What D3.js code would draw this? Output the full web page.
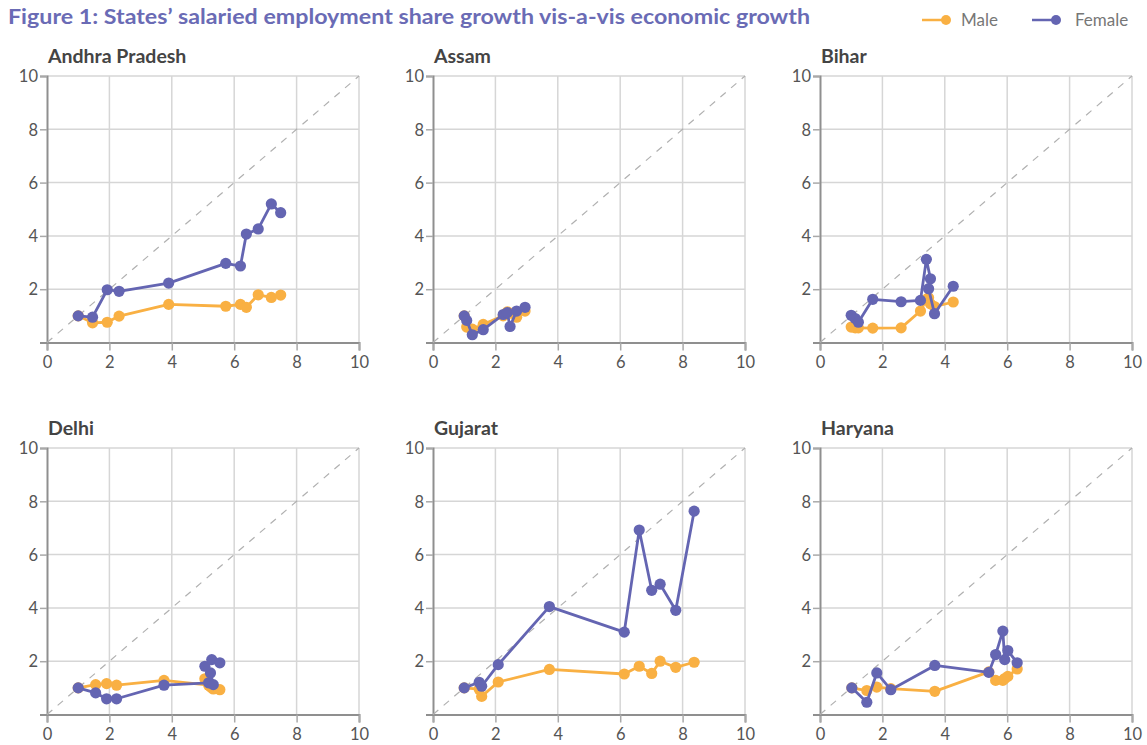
<!DOCTYPE html>
<html>
<head>
<meta charset="utf-8">
<script src="https://cdn.jsdelivr.net/npm/d3@7"></script>
<style>
  html, body { margin: 0; padding: 0; background: #ffffff; }
  svg { display: block; }
  text { font-family: Lato, "Open Sans", sans-serif; }
</style>
</head>
<body>
<svg id="chart" width="1147" height="745"></svg>
<script>
// States shown, one small multiple each
const states = ["Andhra Pradesh", "Assam", "Bihar", "Delhi", "Gujarat", "Haryana"];

// Economic growth index (x) per state, one entry per year
const econGrowth = [
  [1.0, 1.46, 1.93, 2.31, 3.90, 5.73, 6.20, 6.39, 6.77, 7.19, 7.49],
  [1.0, 1.08, 1.26, 1.61, 2.25, 2.38, 2.47, 2.68, 2.95],
  [1.0, 1.13, 1.23, 1.69, 2.60, 3.22, 3.41, 3.54, 3.48, 3.67, 4.27],
  [1.0, 1.56, 1.91, 2.23, 3.75, 5.18, 5.33, 5.24, 5.06, 5.28, 5.54],
  [1.0, 1.48, 1.56, 2.09, 3.73, 6.13, 6.61, 7.01, 7.28, 7.78, 8.37],
  [1.02, 1.50, 1.82, 2.27, 3.68, 5.41, 5.63, 5.86, 5.92, 6.02, 6.32]
];

// Salaried employment share growth index, male
const maleShare = [
  [1.0, 0.74, 0.76, 0.99, 1.43, 1.36, 1.43, 1.32, 1.79, 1.69, 1.78],
  [1.0, 0.58, 0.50, 0.68, 1.00, 1.15, 1.10, 0.95, 1.18],
  [0.58, 0.55, 0.55, 0.54, 0.55, 1.18, 1.62, 1.45, 1.68, 1.35, 1.52],
  [1.0, 1.12, 1.16, 1.10, 1.28, 1.10, 0.96, 1.05, 1.34, 1.00, 0.93],
  [1.0, 0.95, 0.68, 1.22, 1.69, 1.52, 1.81, 1.54, 2.00, 1.77, 1.96],
  [1.0, 0.90, 1.03, 0.97, 0.87, 1.60, 1.28, 1.28, 1.35, 1.43, 1.71]
];

// Salaried employment share growth index, female
const femaleShare = [
  [1.0, 0.95, 1.98, 1.92, 2.23, 2.97, 2.87, 4.07, 4.26, 5.20, 4.87],
  [1.0, 0.83, 0.29, 0.48, 1.05, 1.12, 0.60, 1.18, 1.32],
  [1.02, 0.90, 0.76, 1.62, 1.53, 1.58, 3.12, 2.39, 2.02, 1.08, 2.11],
  [1.0, 0.81, 0.59, 0.59, 1.10, 1.19, 1.12, 1.56, 1.81, 2.06, 1.94],
  [1.0, 1.21, 1.06, 1.87, 4.05, 3.09, 6.92, 4.66, 4.89, 3.91, 7.63],
  [1.0, 0.46, 1.56, 0.93, 1.84, 1.58, 2.25, 3.13, 2.06, 2.40, 1.94]
];

const axisTicks = [0, 2, 4, 6, 8, 10];
const gridTicks = [2, 4, 6, 8, 10];
const seriesNames = ["Male", "Female"];
const seriesColors = ["#f9b043", "#6465b2"];

const svg = d3.select("#chart");

// Title
svg.append("text")
  .attr("x", 8).attr("y", 24)
  .attr("fill", "#6a6bb5")
  .attr("font-size", 20)
  .attr("font-weight", 700)
  .attr("textLength", 802)
  .attr("lengthAdjust", "spacingAndGlyphs")
  .text("Figure 1: States’ salaried employment share growth vis-a-vis economic growth");

// Legend: short line ending in a dot, then the series name
const legendX = [922, 1032];
const legendTextX = [961, 1075];
seriesNames.forEach((name, i) => {
  const g = svg.append("g").attr("transform", `translate(${legendX[i]},20)`);
  g.append("line").attr("x1", 0).attr("x2", 24).attr("y1", 0).attr("y2", 0)
    .attr("stroke", seriesColors[i]).attr("stroke-width", 2.5);
  g.append("circle").attr("cx", 24).attr("cy", 0).attr("r", 5).attr("fill", seriesColors[i]);
  svg.append("text").attr("x", legendTextX[i]).attr("y", 26)
    .attr("fill", "#777").attr("font-size", 17).text(name);
});

// Panel geometry
const colX = [47, 433, 820];
const rowY = [76, 448];
const pw = 312, ph = 266.5;

states.forEach((state, idx) => {
  const col = idx % 3, row = Math.floor(idx / 3);
  const g = svg.append("g").attr("transform", `translate(${colX[col]},${rowY[row]})`);

  const x = d3.scaleLinear().domain([0, 10]).range([0, pw]);
  const y = d3.scaleLinear().domain([0, 10]).range([ph, 0]);

  // Panel title
  g.append("text").attr("x", 1).attr("y", -13)
    .attr("fill", "#444").attr("font-size", 19.5).attr("font-weight", 700)
    .text(state);

  // Grid
  g.append("g").selectAll("line").data(gridTicks).join("line")
    .attr("x1", d => x(d)).attr("x2", d => x(d)).attr("y1", 0).attr("y2", ph)
    .attr("stroke", "#d6d6d6").attr("stroke-width", 1.5);
  g.append("g").selectAll("line").data(gridTicks).join("line")
    .attr("x1", 0).attr("x2", pw).attr("y1", d => y(d)).attr("y2", d => y(d))
    .attr("stroke", "#d6d6d6").attr("stroke-width", 1.5);

  // Axes
  const xAxis = g.append("g").attr("transform", `translate(0,${ph})`)
    .call(d3.axisBottom(x).tickValues(axisTicks).tickSize(8).tickPadding(6).tickFormat(d3.format("d")));
  const yAxis = g.append("g")
    .call(d3.axisLeft(y).tickValues(gridTicks).tickSize(7).tickPadding(2).tickFormat(d3.format("d")));
  [xAxis, yAxis].forEach(a => {
    a.select(".domain").attr("stroke", "#8f8f8f").attr("stroke-width", 2);
    a.selectAll(".tick line").attr("stroke", "#a9a9a9").attr("stroke-width", 1.5);
    a.selectAll(".tick text").attr("fill", "#555").attr("font-size", 16.5)
      .attr("font-family", "Lato, 'Open Sans', sans-serif");
  });
  xAxis.selectAll(".tick text").attr("dy", "0.71em");
  yAxis.selectAll(".tick text").attr("dy", "0.35em");

  // Parity diagonal
  g.append("line")
    .attr("x1", x(0)).attr("y1", y(0)).attr("x2", x(10)).attr("y2", y(10))
    .attr("stroke", "#b0b0b0").attr("stroke-width", 1.2).attr("stroke-dasharray", "7,7");

  // Series: male underneath, female on top
  [maleShare, femaleShare].forEach((series, s) => {
    const pts = econGrowth[idx].map((gx, k) => [gx, series[idx][k]]);
    g.append("path").datum(pts)
      .attr("fill", "none").attr("stroke", seriesColors[s]).attr("stroke-width", 2.8)
      .attr("stroke-linejoin", "round")
      .attr("d", d3.line().x(d => x(d[0])).y(d => y(d[1])));
    g.append("g").selectAll("circle").data(pts).join("circle")
      .attr("cx", d => x(d[0])).attr("cy", d => y(d[1])).attr("r", 5.6)
      .attr("fill", seriesColors[s]);
  });
});
</script>
</body>
</html>
